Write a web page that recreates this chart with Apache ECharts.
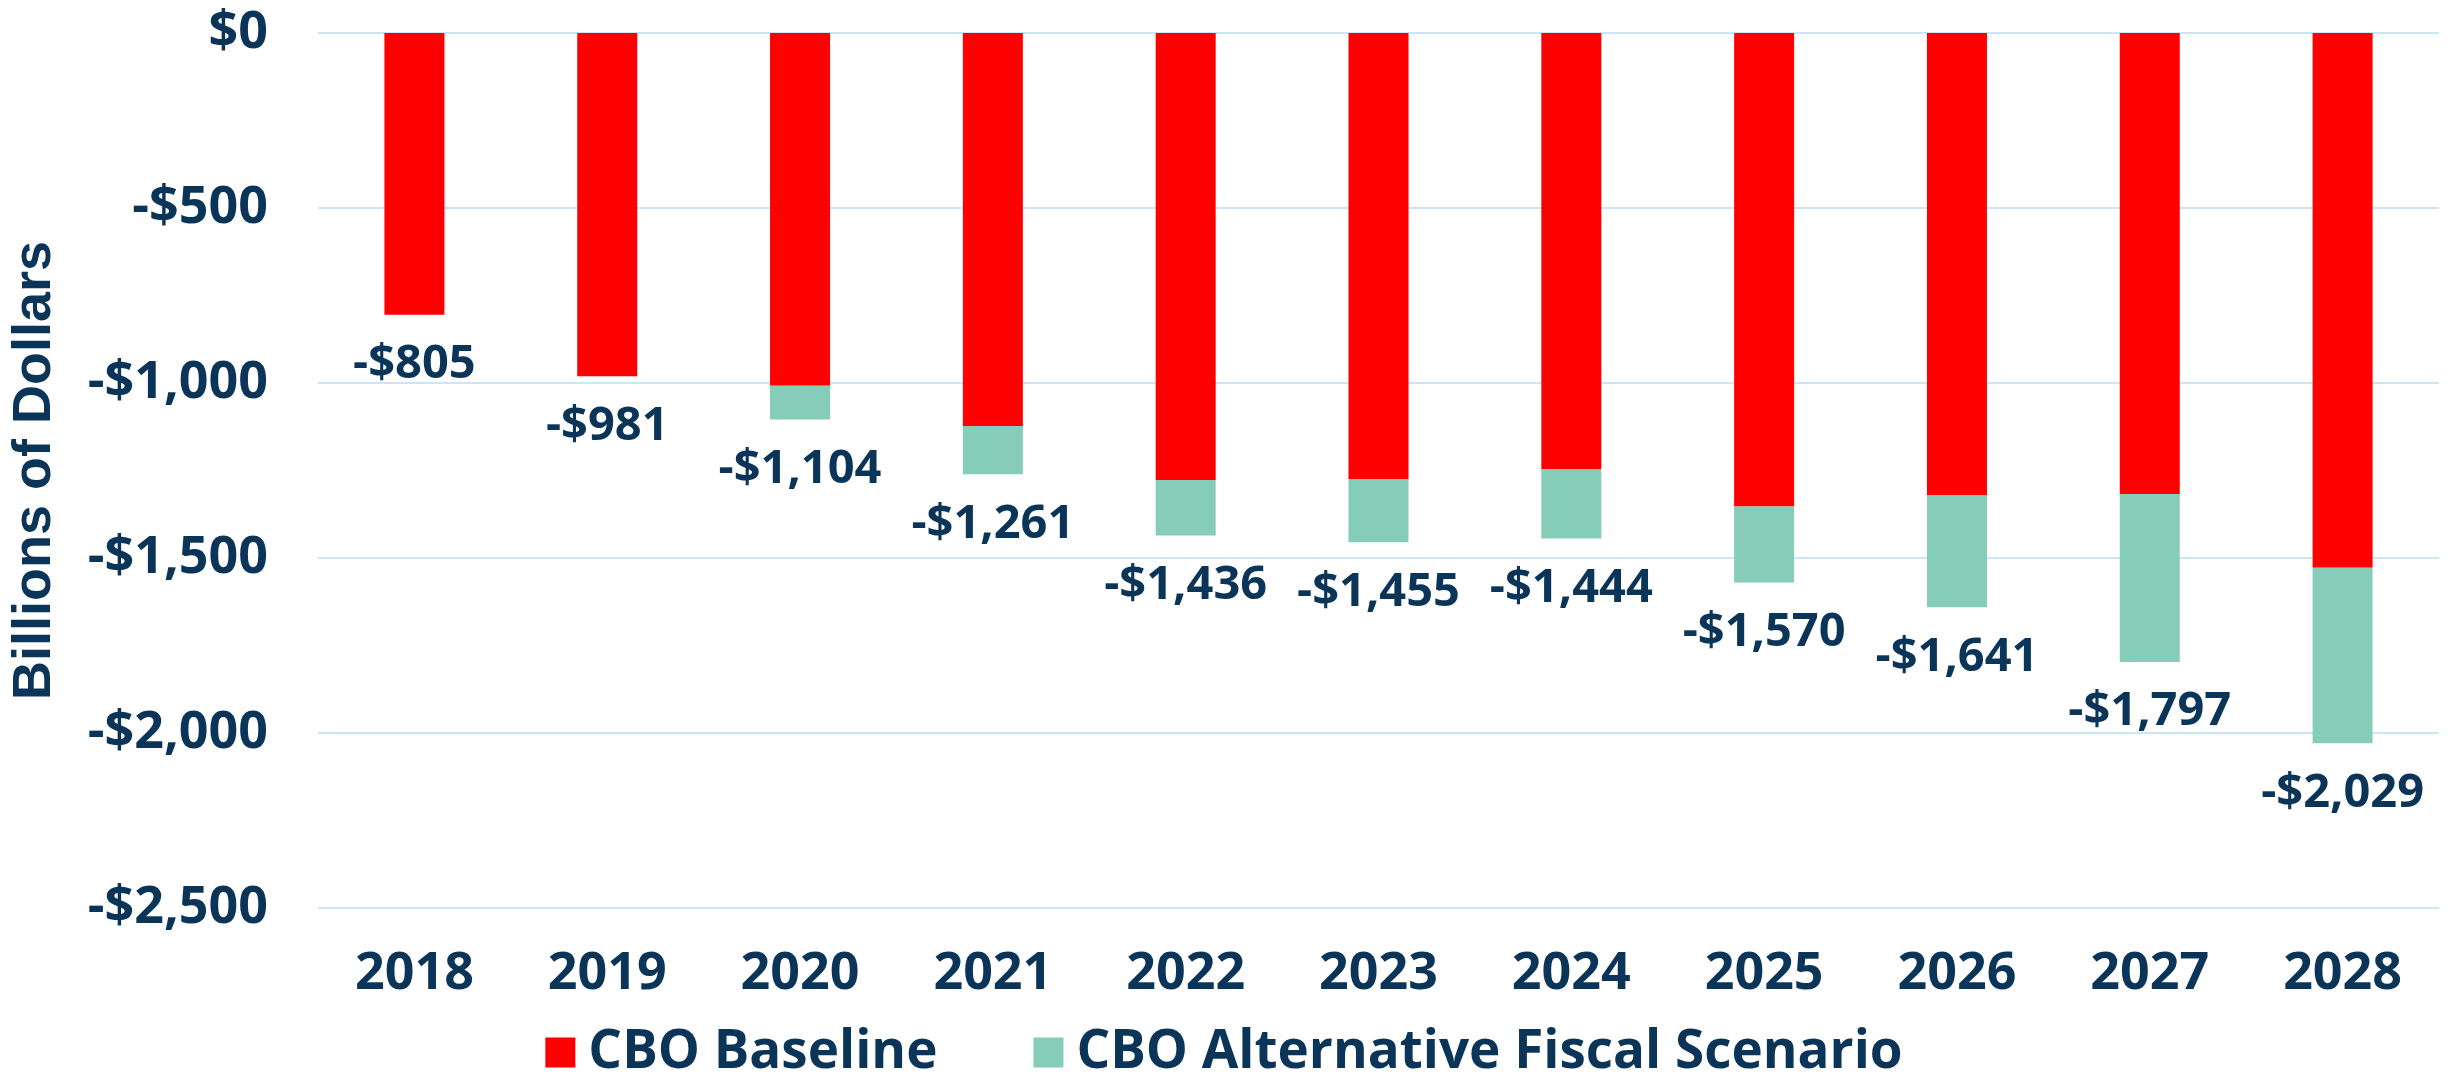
<!DOCTYPE html>
<html><head><meta charset="utf-8">
<script src="https://cdn.jsdelivr.net/npm/echarts@6/dist/echarts.min.js"></script>
<style>html,body{margin:0;padding:0;background:#fff}#c{width:2448px;height:1089px}</style>
</head><body><div id="c"></div>
<script>
const years = ['2018','2019','2020','2021','2022','2023','2024','2025','2026','2027','2028'];
const baseline = [-805,-981,-1008,-1123,-1277,-1274,-1246,-1353,-1320,-1317,-1528];
const alternativeTotal = [-805,-981,-1104,-1261,-1436,-1455,-1444,-1570,-1641,-1797,-2029];
const yTicks = [0,-500,-1000,-1500,-2000,-2500];

const extra = alternativeTotal.map((t,i)=> t - baseline[i]);
const navy = '#0B3558';
const fmt = v => (v<0?'-':'') + '$' + Math.abs(v).toLocaleString('en-US');
const font = '"Open Sans", sans-serif';

const chart = echarts.init(document.getElementById('c'));
chart.setOption({
  animation:false,
  grid:{left:310,right:9,top:33,bottom:181},
  legend:{
    data:['CBO Baseline','CBO Alternative Fiscal Scenario'],
    bottom:5, left:'center', itemWidth:30, itemHeight:30, itemGap:96, icon:'rect',
    textStyle:{color:navy,fontSize:53,fontWeight:'bold',fontFamily:font,padding:[0,0,0,8]}
  },
  xAxis:{type:'category',data:years,
    axisLine:{show:false},axisTick:{show:false},
    axisLabel:{color:navy,fontSize:52,fontWeight:'bold',fontFamily:font,margin:40}},
  yAxis:{type:'value',min:-2500,max:0,interval:500,
    name:'Billions of Dollars',nameLocation:'middle',nameRotate:90,nameGap:256,
    nameTextStyle:{color:navy,fontSize:54,fontWeight:'bold',fontFamily:'"Liberation Sans Narrow", sans-serif'},
    axisLabel:{color:navy,fontSize:52,fontWeight:'bold',fontFamily:font,margin:50,
      formatter:v=>yTicks.includes(v)?fmt(v):''},
    splitLine:{lineStyle:{color:'#CDE6F7',width:2}}},
  series:[
    {name:'CBO Baseline',type:'bar',stack:'d',stackStrategy:'all',data:baseline,barWidth:60,
      itemStyle:{color:'#FF0000'}},
    {name:'CBO Alternative Fiscal Scenario',type:'bar',stack:'d',stackStrategy:'all',data:extra,barWidth:60,
      itemStyle:{color:'#85CDB8'}},
    {name:'labels',type:'scatter',data:alternativeTotal,symbolSize:1,silent:true,
      itemStyle:{color:navy,opacity:0},
      label:{show:true,position:'bottom',distance:26,color:navy,opacity:1,textBorderWidth:0,
        fontSize:47,fontWeight:'bold',fontFamily:font,formatter:p=>fmt(p.value)}}
  ]
});
</script></body></html>
